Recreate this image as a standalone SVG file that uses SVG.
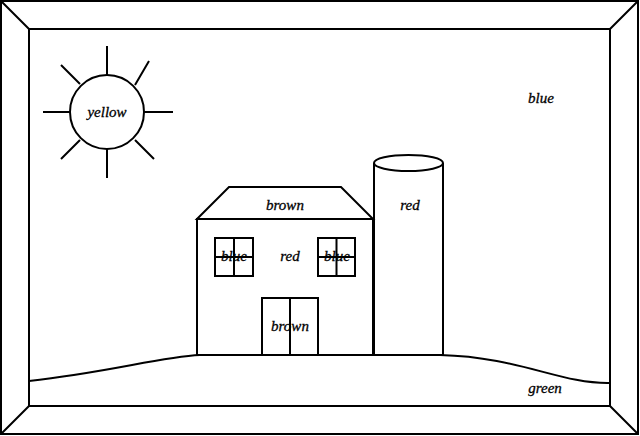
<svg xmlns="http://www.w3.org/2000/svg" width="640" height="436" viewBox="0 0 640 436">
<style>
.s{fill:none;stroke:#000;stroke-width:2}
.w{fill:#fff;stroke:#000;stroke-width:2}
text{font-family:'Liberation Serif','DejaVu Serif',serif;font-style:italic;font-size:15px;text-anchor:middle;fill:#000;stroke:#000;stroke-width:0.3}
</style>
<rect width="640" height="436" fill="#fff"/>
<g id="frame" class="s">
<rect x="1" y="1" width="637" height="433"/>
<rect x="29" y="29" width="581" height="377"/>
<path d="M1,1L29,29M638,1L610,29M1,434L29,406M638,434L610,406"/>
</g>
<g id="ground"><path class="s" d="M29,381 C110,372 160,357 200,355 L440,355 C520,357 560,384 610,383"/><text x="545" y="393">green</text></g>
<g id="sun">
<path class="s" stroke-width="2.5" d="M107,46V75M107,149V178M43,112H70M144,112H173M61,65L80,84M149,61L135,85M61,159L80,140M154,159L135,140"/>
<circle class="w" cx="107" cy="112" r="37"/>
<text x="107" y="117">yellow</text>
</g>
<g id="sky"><text x="541" y="103">blue</text></g>
<g id="silo">
<path class="w" d="M374,163V355H443V163"/>
<ellipse class="w" cx="408.5" cy="163" rx="34.5" ry="8"/>
<text x="410" y="210">red</text>
</g>
<g id="house">
<rect class="w" x="197" y="219" width="176" height="136"/>
<path class="w" d="M197,219L229,187H341L373,219Z"/>
<text x="285" y="210">brown</text>
<text x="290" y="261">red</text>
</g>
<g id="window1"><rect class="s" x="215" y="238" width="38" height="38"/><text x="234" y="261">blue</text><path class="s" d="M234,238V276M215,257H253"/></g>
<g id="window2"><rect class="s" x="318" y="238" width="37" height="38"/><text x="337" y="261">blue</text><path class="s" d="M336.5,238V276M318,257H355"/></g>
<g id="door"><rect class="s" x="262" y="298" width="56" height="57"/><path class="s" d="M290,298V355"/><text x="290" y="331">brown</text></g>
</svg>
